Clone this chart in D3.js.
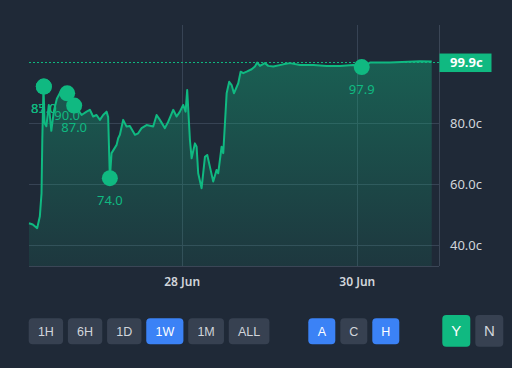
<!DOCTYPE html>
<html>
<head>
<meta charset="utf-8">
<script src="https://cdn.jsdelivr.net/npm/d3@7"></script>
<style>
  html, body { margin: 0; background: #1f2937; }
  svg { display: block; font-family: "Noto Sans", sans-serif; }
</style>
</head>
<body>
<div class="canvas"></div>
<script>
// price history (cents)
const times = [
  "2025-06-26T06:00", "2025-06-26T07:02", "2025-06-26T08:14", "2025-06-26T08:58", "2025-06-26T09:26",
  "2025-06-26T09:39", "2025-06-26T09:58", "2025-06-26T10:17", "2025-06-26T10:45", "2025-06-26T11:26",
  "2025-06-26T12:07", "2025-06-26T12:49", "2025-06-26T13:38", "2025-06-26T14:44", "2025-06-26T16:28",
  "2025-06-26T17:28", "2025-06-26T18:23", "2025-06-26T19:24", "2025-06-26T20:25", "2025-06-26T21:47",
  "2025-06-26T22:41", "2025-06-26T23:35", "2025-06-27T00:31", "2025-06-27T01:26", "2025-06-27T02:20",
  "2025-06-27T03:16", "2025-06-27T03:42", "2025-06-27T04:10", "2025-06-27T04:38", "2025-06-27T06:01",
  "2025-06-27T06:27", "2025-06-27T06:55", "2025-06-27T07:49", "2025-06-27T08:45", "2025-06-27T09:39",
  "2025-06-27T11:02", "2025-06-27T11:56", "2025-06-27T12:52", "2025-06-27T14:14", "2025-06-27T16:03",
  "2025-06-27T16:59", "2025-06-27T17:53", "2025-06-27T19:15", "2025-06-27T20:10", "2025-06-27T21:32",
  "2025-06-27T22:28", "2025-06-27T23:22", "2025-06-28T00:16", "2025-06-28T00:56", "2025-06-28T01:22",
  "2025-06-28T02:07", "2025-06-28T02:35", "2025-06-28T03:29", "2025-06-28T03:57", "2025-06-28T04:23",
  "2025-06-28T05:19", "2025-06-28T06:14", "2025-06-28T06:52", "2025-06-28T07:47", "2025-06-28T08:30",
  "2025-06-28T09:26", "2025-06-28T09:52", "2025-06-28T10:48", "2025-06-28T11:15", "2025-06-28T12:11",
  "2025-06-28T12:53", "2025-06-28T13:33", "2025-06-28T14:11", "2025-06-28T15:22", "2025-06-28T16:01",
  "2025-06-28T16:44", "2025-06-28T17:40", "2025-06-28T19:02", "2025-06-28T19:56", "2025-06-28T20:34",
  "2025-06-28T21:19", "2025-06-28T22:41", "2025-06-28T23:35", "2025-06-29T00:58", "2025-06-29T03:42",
  "2025-06-29T05:32", "2025-06-29T08:17", "2025-06-29T11:56", "2025-06-29T15:37", "2025-06-29T19:16",
  "2025-06-29T22:54", "2025-06-30T01:13", "2025-06-30T03:29", "2025-06-30T08:58", "2025-06-30T17:12",
  "2025-06-30T20:24"
];
const prices = [
  47.2, 46.8, 45.6, 49.4, 57,
  75, 92, 80, 79, 86,
  77.5, 84, 88, 90.5, 89.8,
  87.5, 85.8, 84.5, 82.7, 83.8,
  84.4, 82.2, 82.7, 81.1, 82.7,
  83.8, 82, 62, 70.2, 72.9,
  75.1, 76.2, 81.1, 78.9, 79.1,
  76.2, 76.7, 78.4, 79.4, 78.9,
  82.7, 81.1, 78.4, 80.5, 84.4,
  82.2, 83.8, 86, 83.8, 90.9,
  74.5, 68.5, 73.4, 72.3, 63.6,
  58.7, 69, 69.6, 64.7, 60.9,
  64.7, 63.6, 72.3, 70.2, 89.8,
  93.6, 92.5, 89.8, 93.1, 96.9,
  96.4, 96.9, 97.7, 98.6, 99.9,
  98.8, 99.7, 98.8, 98.6, 99.3,
  99.7, 99.1, 99.1, 98.8, 98.8,
  99.1, 98.4, 99.9, 99.9, 100.3,
  100.2
];

// trade markers
const markerTimes = ["2025-06-26T10:04", "2025-06-26T10:04", "2025-06-26T16:28", "2025-06-26T18:23", "2025-06-27T04:10", "2025-06-30T01:13"];
const markerPrices = [92, 92, 89.8, 85.8, 62, 98.4];
const markerLabels = ["85.0", "87.0", "90.0", "87.0", "74.0", "97.9"];

const yTicks = [40, 60, 80];
const xTicks = ["2025-06-28T00:00", "2025-06-30T00:00"];
const xDomain = ["2025-06-26T06:00", "2025-06-30T22:24"];
const yDomain = [33.2, 112.2];
const lastPrice = 99.9;

const ranges = ["1H", "6H", "1D", "1W", "1M", "ALL"];
const activeRange = "1W";
const layers = ["A", "C", "H"];
const activeLayers = ["A", "H"];
const sides = ["Y", "N"];
const activeSide = "Y";

const parse = d3.utcParse("%Y-%m-%dT%H:%M");
const data = times.map((t, i) => ({date: parse(t), value: prices[i]}));
const marks = markerTimes.map((t, i) => ({date: parse(t), value: markerPrices[i], label: markerLabels[i]}));

const svg = d3.select(".canvas").append("svg")
  .attr("width", 512)
  .attr("height", 368);

//plot box
const plot = {left: 29, right: 439, top: 25, bottom: 266};

const x = d3.scaleUtc()
  .domain(xDomain.map(parse))
  .range([plot.left, plot.right]);
const y = d3.scaleLinear()
  .domain(yDomain)
  .range([plot.bottom, plot.top]);

//gradient for area
const grad = svg.append("defs").append("linearGradient")
  .attr("id", "fill")
  .attr("gradientUnits", "userSpaceOnUse")
  .attr("x1", 0).attr("y1", plot.top)
  .attr("x2", 0).attr("y2", plot.bottom);
grad.append("stop").attr("offset", 0).attr("stop-color", "#10b981").attr("stop-opacity", 0.42);
grad.append("stop").attr("offset", 1).attr("stop-color", "#10b981").attr("stop-opacity", 0.1);

//grid
const grid = svg.append("g").attr("stroke", "#374354").attr("stroke-width", 1);
grid.selectAll(".hg")
  .data(yTicks)
  .enter().append("line")
  .attr("x1", plot.left).attr("x2", plot.right)
  .attr("y1", d => Math.round(y(d)) + 0.5)
  .attr("y2", d => Math.round(y(d)) + 0.5);
grid.selectAll(".vg")
  .data(xTicks.map(parse))
  .enter().append("line")
  .attr("x1", d => Math.round(x(d)) + 0.5)
  .attr("x2", d => Math.round(x(d)) + 0.5)
  .attr("y1", plot.top).attr("y2", plot.bottom);

//area + line
const area = d3.area()
  .x(d => x(d.date))
  .y0(plot.bottom)
  .y1(d => y(d.value));
const line = d3.line()
  .x(d => x(d.date))
  .y(d => y(d.value));

svg.append("path")
  .datum(data)
  .attr("d", area)
  .attr("fill", "url(#fill)");

svg.append("path")
  .datum(data)
  .attr("d", line)
  .attr("fill", "none")
  .attr("stroke", "#10b981")
  .attr("stroke-width", 2)
  .attr("stroke-linejoin", "round");

//last price line
svg.append("line")
  .attr("x1", plot.left).attr("x2", plot.right)
  .attr("y1", y(lastPrice)).attr("y2", y(lastPrice))
  .attr("stroke", "#10b981")
  .attr("stroke-width", 1)
  .attr("stroke-dasharray", "2,2");

//axes frame
svg.append("line")
  .attr("x1", plot.left).attr("x2", plot.right)
  .attr("y1", plot.bottom + 0.5).attr("y2", plot.bottom + 0.5)
  .attr("stroke", "#3b4656");
svg.append("line")
  .attr("x1", plot.right + 0.5).attr("x2", plot.right + 0.5)
  .attr("y1", plot.top).attr("y2", plot.bottom)
  .attr("stroke", "#3b4656");

//markers
svg.selectAll(".marker")
  .data(marks)
  .enter().append("circle")
  .attr("cx", d => x(d.date))
  .attr("cy", d => y(d.value))
  .attr("r", 8)
  .attr("fill", "#10b981");
svg.selectAll(".mlabel")
  .data(marks)
  .enter().append("text")
  .attr("x", d => x(d.date))
  .attr("y", d => y(d.value) + 22)
  .attr("dy", "0.35em")
  .attr("text-anchor", "middle")
  .attr("fill", "#10b981")
  .attr("font-size", 13)
  .text(d => d.label);

//y tick labels
svg.selectAll(".ylab")
  .data(yTicks)
  .enter().append("text")
  .attr("x", 450)
  .attr("y", d => y(d))
  .attr("dy", "0.35em")
  .attr("fill", "#d1d5db")
  .attr("font-size", 13)
  .text(d => d3.format(".1f")(d) + "c");

//x tick labels
svg.selectAll(".xlab")
  .data(xTicks.map(parse))
  .enter().append("text")
  .attr("x", d => x(d))
  .attr("y", 286)
  .attr("text-anchor", "middle")
  .attr("fill", "#d1d5db")
  .attr("font-size", 12)
  .attr("font-weight", 600)
  .text(d => d3.utcFormat("%-d %b")(d));

//last price badge
svg.append("rect")
  .attr("x", plot.right + 0.5).attr("y", y(lastPrice) - 9)
  .attr("width", 52).attr("height", 18.5)
  .attr("fill", "#10b981");
svg.append("text")
  .attr("x", 450).attr("y", y(lastPrice))
  .attr("dy", "0.35em")
  .attr("fill", "#ffffff")
  .attr("font-size", 13)
  .attr("font-weight", 700)
  .text(lastPrice.toFixed(1) + "c");

//button rows
function buttonRow(labels, isActive, activeColor, x0, y0, h, fontSize, minW, pad, gap) {
  const g = svg.append("g").attr("font-family", "'Liberation Sans', Arial, sans-serif");
  let cx = x0;
  labels.forEach(l => {
    const b = g.append("g");
    const rect = b.append("rect")
      .attr("y", y0).attr("height", h).attr("rx", 4)
      .attr("fill", isActive(l) ? activeColor : "#374151");
    const t = b.append("text")
      .attr("y", y0 + h / 2)
      .attr("dy", "0.35em")
      .attr("text-anchor", "middle")
      .attr("font-size", fontSize)
      .attr("fill", isActive(l) ? "#ffffff" : "#d1d5db")
      .text(l);
    const w = Math.max(minW, t.node().getComputedTextLength() + pad * 2);
    rect.attr("x", cx).attr("width", w);
    t.attr("x", cx + w / 2);
    cx += w + gap;
  });
}

buttonRow(ranges, l => l === activeRange, "#3b82f6", 28.7, 318.3, 26, 12.5, 33, 9.2, 4.8);
buttonRow(layers, l => activeLayers.includes(l), "#3b82f6", 308.3, 318.3, 26, 12.5, 27, 7, 5);
buttonRow(sides, l => l === activeSide, "#10b981", 442.3, 315, 31.7, 15, 28, 8, 5);
</script>
</body>
</html>
